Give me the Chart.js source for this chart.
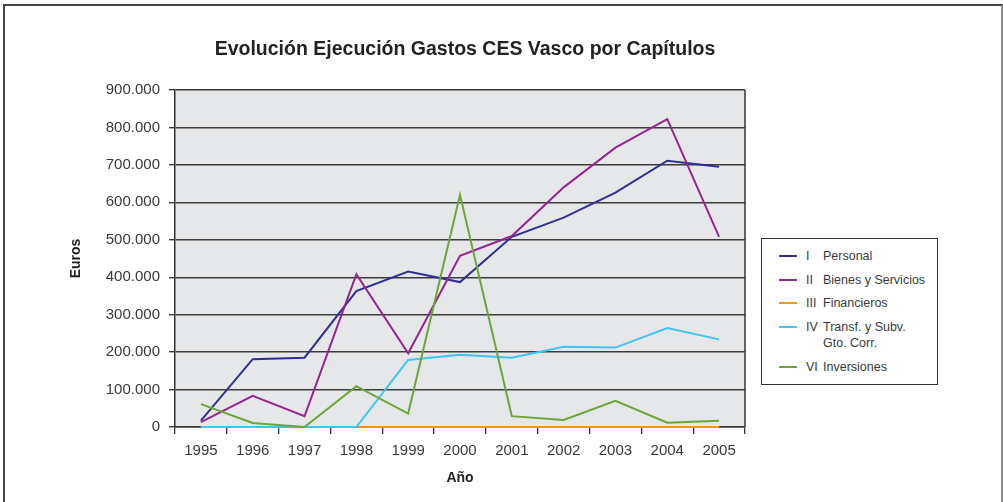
<!DOCTYPE html>
<html lang="es">
<head>
<meta charset="utf-8">
<title>Evolución Ejecución Gastos CES Vasco por Capítulos</title>
<script src="https://cdn.jsdelivr.net/npm/chart.js@4/dist/chart.umd.min.js"></script>
<style>
  html, body { margin: 0; padding: 0; background: #fff; overflow: hidden; }
  #wrap { position: relative; width: 1003px; height: 502px; }
  #frame { position: absolute; left: 3px; top: 4px; width: 996px; height: 600px;
    border-top: 2px solid #444; border-left: 2px solid #444; border-right: 2px solid #8a8a8a; }
  #chart { position: absolute; left: 0; top: 0; }
  #title { position: absolute; left: 0; top: 36px; width: 930px; text-align: center;
    font: bold 19.5px "Liberation Sans", Arial, sans-serif; color: #222; line-height: 24px; }
  #legend { position: absolute; left: 761px; top: 238px; width: 175px; height: 145px;
    border: 1px solid #333; background: #fff; font-family: "Liberation Sans", Arial, sans-serif;
    font-size: 12.5px; color: #3a3a3a; }
  .item { position: absolute; left: 0; width: 100%; height: 16px; line-height: 16px; }
  .item .sw { position: absolute; left: 17px; top: 7px; width: 18px; height: 2px; }
  .item .num { position: absolute; left: 44px; }
  .item .name { position: absolute; left: 61px; white-space: nowrap; }
</style>
</head>
<body>
<div id="wrap">
  <div id="frame"></div>
  <canvas id="chart" width="1003" height="502"></canvas>
  <div id="title">Evolución Ejecución Gastos CES Vasco por Capítulos</div>
  <div id="legend"></div>
</div>
<script>
// Datos (euros por capítulo y año)
const years = ['1995', '1996', '1997', '1998', '1999', '2000', '2001', '2002', '2003', '2004', '2005'];
const personal    = [17000, 181000, 185000, 363000, 415000, 387000, 508000, 559000, 626000, 711000, 695000];
const bienes      = [13000, 83000, 29000, 408000, 197000, 457000, 510000, 640000, 746000, 822000, 508000];
const financieros = [0, 0, 0, 0, 0, 0, 0, 0, 0, 0, 0];
const transf      = [0, 0, 0, 0, 179000, 193000, 185000, 214000, 212000, 264000, 234000];
const inversiones = [61000, 10700, 0, 109000, 36000, 620000, 29000, 19000, 70000, 11500, 17000];

const seriesNums   = ['I', 'II', 'III', 'IV', 'VI'];
const seriesNames  = ['Personal', 'Bienes y Servicios', 'Financieros', 'Transf. y Subv.<br>Gto. Corr.', 'Inversiones'];
const seriesColors = ['#2e3192', '#92278f', '#f7941d', '#40c4f2', '#6ea53b'];

const FONT = '"Liberation Sans", Arial, sans-serif';
const fmt = v => String(v).replace(/\B(?=(\d{3})+(?!\d))/g, '.');

const plotFrame = {
  id: 'plotFrame',
  beforeDraw(chart) {
    const { ctx, chartArea: a } = chart;
    ctx.save();
    ctx.fillStyle = '#e6e7e9';
    ctx.fillRect(a.left, a.top, a.right - a.left, a.bottom - a.top);
    ctx.restore();
  },
  afterDatasetsDraw(chart) {
    const { ctx, chartArea: a } = chart;
    ctx.save();
    ctx.strokeStyle = '#333';
    ctx.lineWidth = 1.5;
    ctx.beginPath();
    ctx.moveTo(a.right, a.top);
    ctx.lineTo(a.right, a.bottom);
    ctx.stroke();
    ctx.restore();
  }
};

const allData = [personal, bienes, financieros, transf, inversiones];
const datasets = allData.map((data, i) => ({
  label: seriesNums[i] + ' ' + seriesNames[i].replace('<br>', ' '),
  data,
  borderColor: seriesColors[i],
  backgroundColor: seriesColors[i],
  borderWidth: 2,
  pointRadius: 0,
  tension: 0,
  clip: 4,
  order: allData.length - 1 - i
}));

new Chart(document.getElementById('chart'), {
  type: 'line',
  data: { labels: years, datasets },
  plugins: [plotFrame],
  options: {
    responsive: false,
    animation: false,
    events: [],
    layout: { padding: { left: 0, right: 258, top: 90, bottom: 0 } },
    plugins: {
      legend: { display: false },
      tooltip: { enabled: false },
      title: { display: false }
    },
    scales: {
      x: {
        offset: true,
        afterFit(s) { s.height = 75; },
        grid: { offset: true, drawOnChartArea: false, drawTicks: true, tickLength: 7, color: '#333', lineWidth: 1.3 },
        border: { display: true, color: '#333', width: 1.5 },
        ticks: { color: '#3a3a3a', font: { family: FONT, size: 15 }, padding: 8, maxRotation: 0 },
        title: { display: true, text: 'Año', color: '#222', font: { family: FONT, size: 14, weight: 'bold' }, padding: { top: 4, bottom: 15 } }
      },
      y: {
        min: 0,
        max: 900000,
        afterFit(s) { s.width = 175; },
        grid: { color: '#3c3c3c', lineWidth: 1.4, tickLength: 6 },
        border: { display: true, color: '#333', width: 1.5 },
        ticks: { stepSize: 100000, color: '#3a3a3a', font: { family: FONT, size: 15 }, padding: 9, callback: v => fmt(v) },
        title: { display: true, text: 'Euros', color: '#222', font: { family: FONT, size: 14, weight: 'bold' }, padding: { top: 68, bottom: 0 } }
      }
    }
  }
});

// Leyenda con recuadro, como en el original
const legendTops = [9, 33, 56, 80, 120];
document.getElementById('legend').innerHTML = seriesNames.map((name, i) => `
  <div class="item" style="top:${legendTops[i]}px">
    <span class="sw" style="background:${seriesColors[i]}"></span>
    <span class="num">${seriesNums[i]}</span>
    <span class="name">${name}</span>
  </div>`).join('');
</script>
</body>
</html>
